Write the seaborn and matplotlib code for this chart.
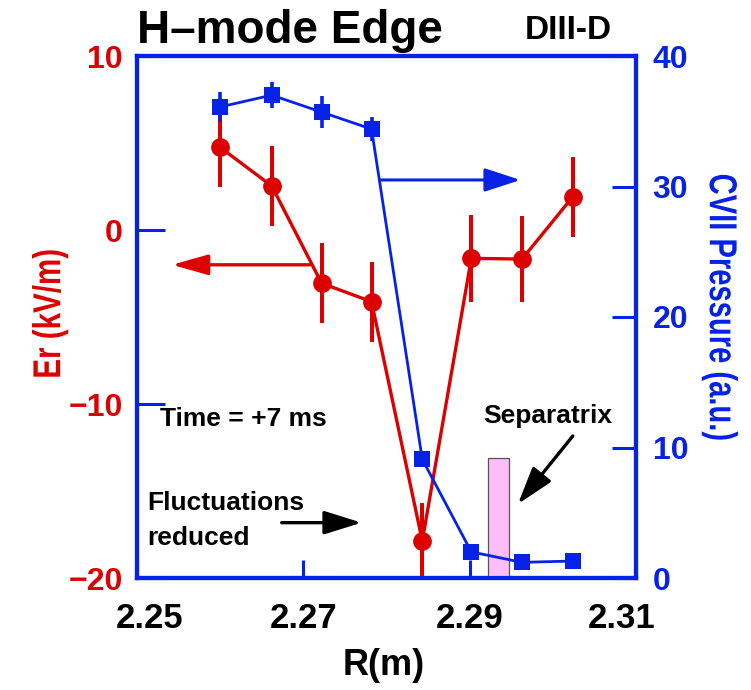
import numpy as np
import pandas as pd
import matplotlib
matplotlib.use("Agg")
import matplotlib.pyplot as plt
from matplotlib import patheffects
from matplotlib.transforms import Affine2D, ScaledTranslation
import seaborn as sns

# Major radius of the measurement chords (m)
radius = [2.2600, 2.2662, 2.2722, 2.2782, 2.2843, 2.2902, 2.2963, 2.3024]

# Radial electric field (kV/m) and its uncertainty
er_values = [4.75, 2.53, -3.06, -4.12, -17.87, -1.63, -1.67, 1.91]
er_errors = [2.3, 2.3, 2.3, 2.3, 2.2, 2.5, 2.45, 2.3]

# CVII pressure (a.u.) and its uncertainty
pressure_values = [36.1, 37.0, 35.7, 34.4, 9.1, 2.0, 1.2, 1.3]
pressure_errors = [1.15, 1.0, 1.2, 0.9, 0.5, 0.5, 0.5, 0.5]

# Separatrix location and the height of its marker bar
separatrix_r = 2.2935
separatrix_width = 0.0025
separatrix_top = 9.2

x_ticks = [2.25, 2.27, 2.29, 2.31]
x_tick_labels = ["2.25", "2.27", "2.29", "2.31"]
er_ticks = [-20, -10, 0, 10]
pressure_ticks = [0, 10, 20, 30, 40]

RED = "#DD0000"
BLUE = "#0522E6"
PINK = "#FFBEFA"


class Condense(patheffects.AbstractPathEffect):
    """Squeeze glyph outlines along the screen y direction about a point
    given in axes coordinates (gives a narrow face for the rotated labels)."""

    def __init__(self, axes, anchor, factor):
        super().__init__()
        self.axes = axes
        self.anchor = anchor
        self.factor = factor

    def draw_path(self, renderer, gc, tpath, affine, rgbFace=None):
        cx, cy = self.axes.transAxes.transform(self.anchor)
        squeeze = (Affine2D().translate(-cx, -cy)
                   .scale(1.0, self.factor).translate(cx, cy))
        renderer.draw_path(gc, tpath, affine + squeeze, rgbFace)


sns.set_theme(style="white")
plt.rcParams["font.family"] = ["Liberation Sans", "DejaVu Sans"]
plt.rcParams["font.weight"] = "bold"

df = pd.DataFrame({"R": radius, "Er": er_values, "P": pressure_values})

fig = plt.figure(figsize=(7.51, 6.90), dpi=100)
ax = fig.add_axes([137 / 751, 112 / 690, 499 / 751, 522 / 690])
ax2 = ax.twinx()

# Er on the left axis
ax.errorbar(radius, er_values, yerr=er_errors, fmt="none", ecolor=RED,
            elinewidth=2.9, capsize=0, zorder=3)
sns.lineplot(data=df, x="R", y="Er", ax=ax, color=RED, lw=2.4, marker="o",
             markersize=13.5, markeredgecolor=RED, markeredgewidth=0,
             sort=False, errorbar=None, zorder=4)

# Separatrix bar and CVII pressure on the right axis
ax2.bar([separatrix_r], [separatrix_top], width=separatrix_width, bottom=0,
        color=PINK, edgecolor="#555555", linewidth=0.9, zorder=1)
ax2.errorbar(radius, pressure_values, yerr=pressure_errors, fmt="none",
             ecolor=BLUE, elinewidth=2.6, capsize=0, zorder=3)
sns.lineplot(data=df, x="R", y="P", ax=ax2, color=BLUE, lw=2.0, marker="s",
             markersize=11.5, markeredgecolor=BLUE, markeredgewidth=0,
             sort=False, errorbar=None, zorder=4)

ax.set_xlim(2.25, 2.31)
ax.set_ylim(-20, 10)
ax2.set_ylim(0, 40)

ax.set_xticks(x_ticks)
ax.set_xticklabels(x_tick_labels)
ax.set_yticks(er_ticks)
ax2.set_yticks(pressure_ticks)

ax.tick_params(axis="x", direction="in", length=13, width=2.2, color=BLUE,
               labelsize=25, pad=17, labelcolor="black", bottom=True, top=False)
ax.tick_params(axis="y", direction="in", length=20, width=2.2, color=BLUE,
               labelsize=23, pad=10, labelcolor=RED, left=True, right=False)
ax2.tick_params(axis="y", direction="in", length=17, width=2.2, color=BLUE,
                labelsize=23, pad=12, labelcolor=BLUE, right=True, left=False)
for lab in ax.get_xticklabels() + ax.get_yticklabels() + ax2.get_yticklabels():
    lab.set_fontweight("bold")

# End labels of the R axis sit slightly inside the frame
xlabels = ax.get_xticklabels()
xlabels[0].set_transform(xlabels[0].get_transform()
                         + ScaledTranslation(0.13, 0, fig.dpi_scale_trans))
xlabels[-1].set_transform(xlabels[-1].get_transform()
                          + ScaledTranslation(-0.14, 0, fig.dpi_scale_trans))

for a in (ax, ax2):
    for side in ("left", "right", "top", "bottom"):
        a.spines[side].set_color(BLUE)
        a.spines[side].set_linewidth(3.0)
        a.spines[side].set_visible(True)
    a.grid(False)

ax.set_xlabel("R(m)", fontsize=26, fontweight="bold", color="black")
ax.xaxis.set_label_coords(0.495, -0.135)

left_anchor = (-0.174, 0.506)
ax.set_ylabel("Er (kV/m)", fontsize=28, fontweight="bold", color=RED,
              rotation=90, va="center", ha="center", rotation_mode="default")
ax.yaxis.set_label_coords(*left_anchor)
ax.yaxis.label.set_path_effects([Condense(ax, left_anchor, 0.76)])

right_anchor = (1.168, 0.519)
ax2.set_ylabel("CVII Pressure (a.u.)", fontsize=28, fontweight="bold",
               color=BLUE, rotation=270, va="center", ha="center",
               rotation_mode="default")
ax2.yaxis.set_label_coords(*right_anchor)
ax2.yaxis.label.set_path_effects([Condense(ax2, right_anchor, 0.75)])

# Arrows pointing to the axis each curve belongs to
ax.annotate("", xy=(2.2542, -2.0), xytext=(2.2708, -2.0),
            arrowprops=dict(arrowstyle="-|>,head_length=1.1,head_width=0.31",
                            color=RED, lw=2.4, mutation_scale=20,
                            shrinkA=0, shrinkB=0))
ax2.annotate("", xy=(2.2961, 30.5), xytext=(2.2792, 30.5),
             arrowprops=dict(arrowstyle="-|>,head_length=1.1,head_width=0.36",
                             color=BLUE, lw=2.2, mutation_scale=20,
                             shrinkA=0, shrinkB=0))

# Annotations
ax.annotate("", xy=(2.2770, -16.82), xytext=(2.2674, -16.82),
            arrowprops=dict(arrowstyle="-|>,head_length=1.15,head_width=0.36",
                            color="black", lw=2.4, mutation_scale=20,
                            shrinkA=0, shrinkB=0))
ax.annotate("", xy=(2.2958, -15.75), xytext=(2.3024, -11.84),
            arrowprops=dict(arrowstyle="-|>,head_length=1.15,head_width=0.36",
                            color="black", lw=2.4, mutation_scale=20,
                            shrinkA=0, shrinkB=0))

ax.text(0.046, 0.291, "Time = +7 ms", transform=ax.transAxes, fontsize=19,
        fontweight="bold", color="black", ha="left", va="baseline")
ax.text(0.693, 0.297, "Separatrix", transform=ax.transAxes, fontsize=19,
        fontweight="bold", color="black", ha="left", va="baseline")
ax.text(0.02, 0.130, "Fluctuations", transform=ax.transAxes, fontsize=19,
        fontweight="bold", color="black", ha="left", va="baseline")
ax.text(0.02, 0.063, "reduced", transform=ax.transAxes, fontsize=19,
        fontweight="bold", color="black", ha="left", va="baseline")

fig.text(137 / 751, 1 - 43 / 690, "H\u2013mode Edge", fontsize=33,
         fontweight="bold", color="black", ha="left", va="baseline")
fig.text(525 / 751, 1 - 39 / 690, "DIII-D", fontsize=24,
         fontweight="bold", color="black", ha="left", va="baseline")

fig.savefig("out.png", dpi=100, facecolor="white")
